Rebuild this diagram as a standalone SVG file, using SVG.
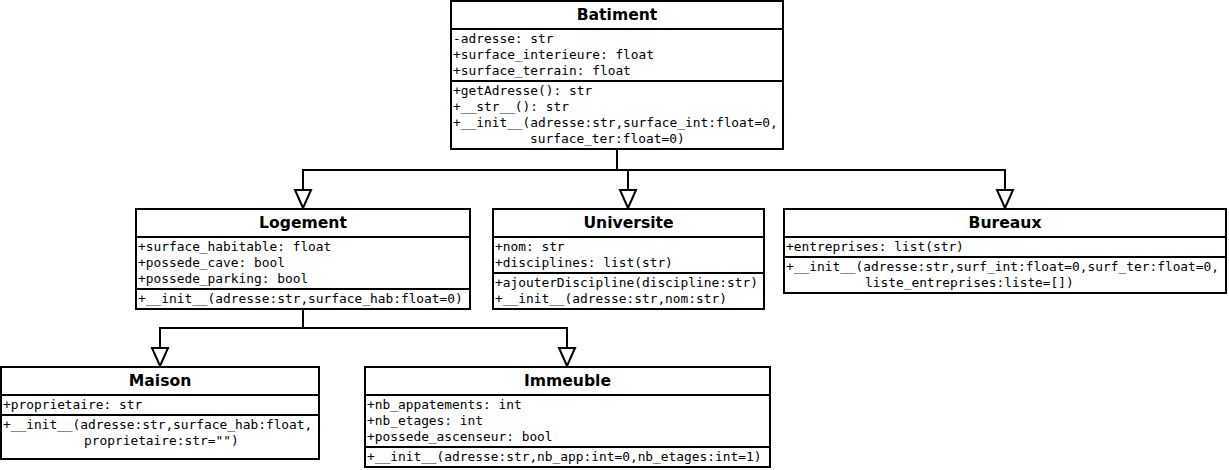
<svg xmlns="http://www.w3.org/2000/svg" width="1229" height="470" viewBox="0 0 1229 470">
<style>
.box{fill:#fff;stroke:#000;stroke-width:2}
.div{stroke:#000;stroke-width:2}
.t{font-family:"DejaVu Sans","Liberation Sans",sans-serif;font-weight:bold;font-size:15.6px;text-anchor:middle;fill:#000}
.m{font-family:"DejaVu Sans Mono","Liberation Mono",monospace;font-size:12.85px;fill:#000}
.edge{fill:none;stroke:#000;stroke-width:2;marker-end:url(#tri)}
</style>
<defs>
<marker id="tri" markerUnits="userSpaceOnUse" markerWidth="22" markerHeight="20" viewBox="0 0 22 20" refX="20" refY="10" orient="auto" overflow="visible">
<path d="M2,2 L20,10 L2,18 Z" fill="#fff" stroke="#000" stroke-width="2"/>
</marker>
</defs>
<rect width="1229" height="470" fill="#fff"/>
<g id="connectors">
<path class="edge" d="M617,149 V170 H303 V208"/>
<path class="edge" d="M617,149 V170 H628 V208"/>
<path class="edge" d="M617,149 V170 H1005 V208"/>
<path class="edge" d="M303,309 V328 H160 V366"/>
<path class="edge" d="M303,309 V328 H567 V366"/>
</g>
<g id="Batiment">
<rect class="box" x="451" y="1" width="332" height="148"/>
<line class="div" x1="451" y1="29" x2="783" y2="29"/>
<line class="div" x1="451" y1="81" x2="783" y2="81"/>
<text class="t" x="617" y="20">Batiment</text>
<text class="m" x="453" y="42.5">-adresse: str</text>
<text class="m" x="453" y="58.5">+surface_interieure: float</text>
<text class="m" x="453" y="74.5">+surface_terrain: float</text>
<text class="m" x="453" y="94.5">+getAdresse(): str</text>
<text class="m" x="453" y="110.5">+__str__(): str</text>
<text class="m" x="453" y="126.5">+__init__(adresse:str,surface_int:float=0,</text>
<text class="m" x="530" y="142.5">surface_ter:float=0)</text>
</g>
<g id="Logement">
<rect class="box" x="136" y="209" width="334" height="100"/>
<line class="div" x1="136" y1="237" x2="470" y2="237"/>
<line class="div" x1="136" y1="289" x2="470" y2="289"/>
<text class="t" x="303" y="228">Logement</text>
<text class="m" x="138" y="250.5">+surface_habitable: float</text>
<text class="m" x="138" y="266.5">+possede_cave: bool</text>
<text class="m" x="138" y="282.5">+possede_parking: bool</text>
<text class="m" x="138" y="302.5">+__init__(adresse:str,surface_hab:float=0)</text>
</g>
<g id="Universite">
<rect class="box" x="493" y="209" width="271" height="100"/>
<line class="div" x1="493" y1="237" x2="764" y2="237"/>
<line class="div" x1="493" y1="273" x2="764" y2="273"/>
<text class="t" x="628.5" y="228">Universite</text>
<text class="m" x="495" y="250.5">+nom: str</text>
<text class="m" x="495" y="266.5">+disciplines: list(str)</text>
<text class="m" x="495" y="286.5">+ajouterDiscipline(discipline:str)</text>
<text class="m" x="495" y="302.5">+__init__(adresse:str,nom:str)</text>
</g>
<g id="Bureaux">
<rect class="box" x="784" y="209" width="442" height="84"/>
<line class="div" x1="784" y1="237" x2="1226" y2="237"/>
<line class="div" x1="784" y1="257" x2="1226" y2="257"/>
<text class="t" x="1005" y="228">Bureaux</text>
<text class="m" x="786" y="250.5">+entreprises: list(str)</text>
<text class="m" x="786" y="270.5">+__init__(adresse:str,surf_int:float=0,surf_ter:float=0,</text>
<text class="m" x="865" y="286.5">liste_entreprises:liste=[])</text>
</g>
<g id="Maison">
<rect class="box" x="1" y="367" width="318" height="92"/>
<line class="div" x1="1" y1="395" x2="319" y2="395"/>
<line class="div" x1="1" y1="415" x2="319" y2="415"/>
<text class="t" x="160" y="386">Maison</text>
<text class="m" x="3" y="408.5">+proprietaire: str</text>
<text class="m" x="3" y="428.5">+__init__(adresse:str,surface_hab:float,</text>
<text class="m" x="84" y="444.5">proprietaire:str="")</text>
</g>
<g id="Immeuble">
<rect class="box" x="365" y="367" width="405" height="100"/>
<line class="div" x1="365" y1="395" x2="770" y2="395"/>
<line class="div" x1="365" y1="447" x2="770" y2="447"/>
<text class="t" x="567.5" y="386">Immeuble</text>
<text class="m" x="367" y="408.5">+nb_appatements: int</text>
<text class="m" x="367" y="424.5">+nb_etages: int</text>
<text class="m" x="367" y="440.5">+possede_ascenseur: bool</text>
<text class="m" x="367" y="460.5">+__init__(adresse:str,nb_app:int=0,nb_etages:int=1)</text>
</g>
</svg>
